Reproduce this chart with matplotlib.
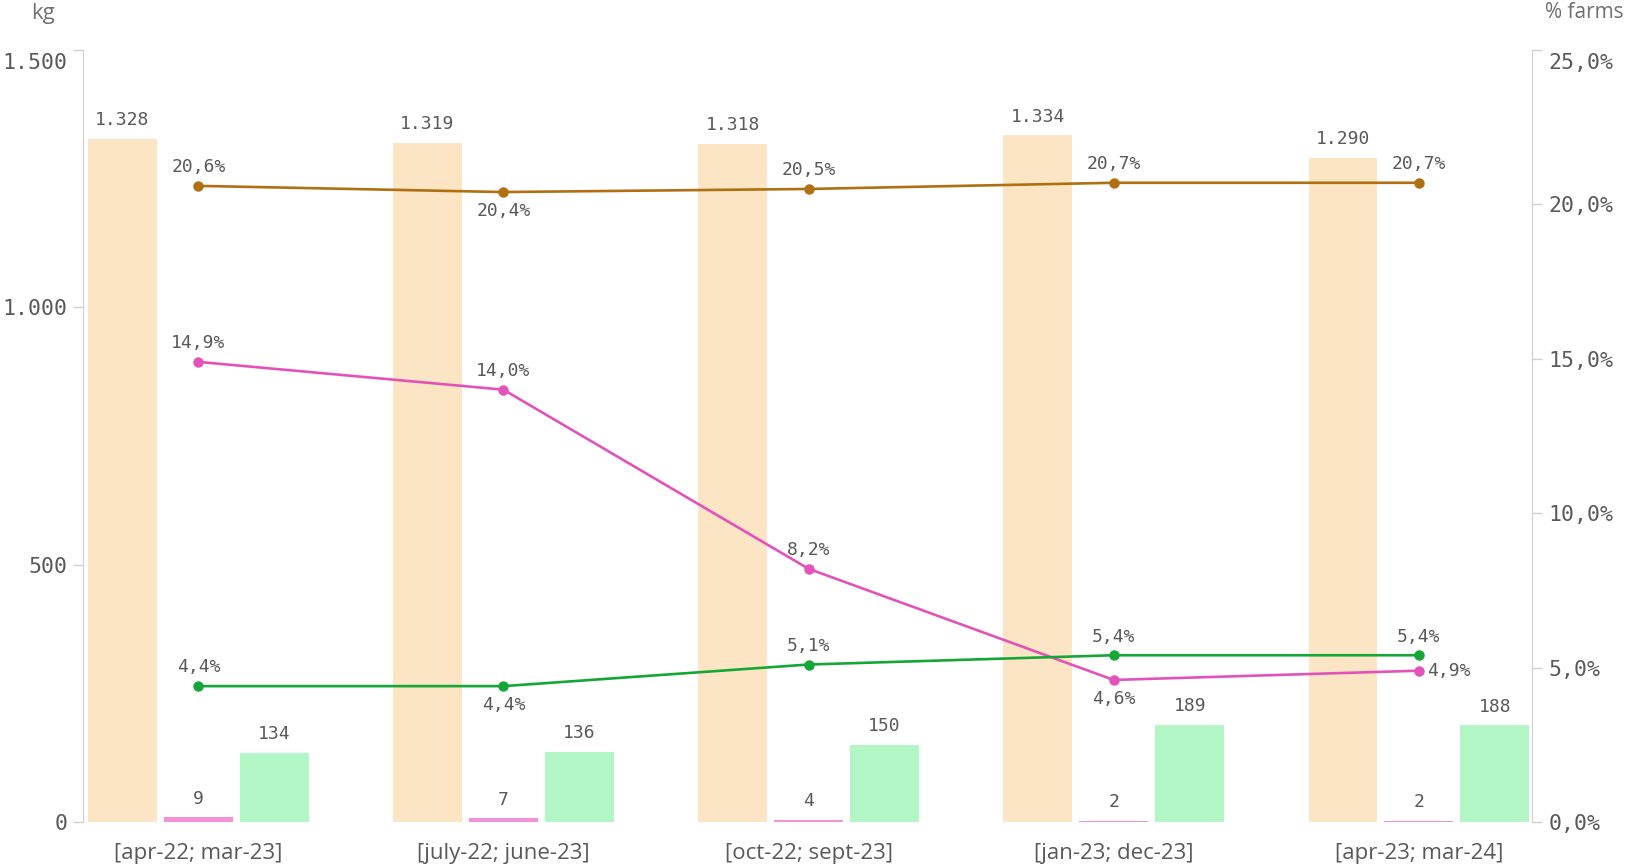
import matplotlib
matplotlib.use("Agg")
import matplotlib.pyplot as plt
import matplotlib.transforms as mtransforms
import numpy as np

categories = ["[apr-22; mar-23]", "[july-22; june-23]", "[oct-22; sept-23]",
              "[jan-23; dec-23]", "[apr-23; mar-24]"]
bar_total = [1328, 1319, 1318, 1334, 1290]
bar_pink = [9, 7, 4, 2, 2]
bar_green = [134, 136, 150, 189, 188]
line_brown = [20.6, 20.4, 20.5, 20.7, 20.7]
line_pink = [14.9, 14.0, 8.2, 4.6, 4.9]
line_green = [4.4, 4.4, 5.1, 5.4, 5.4]
left_ticks = [0, 500, 1000, 1500]
right_ticks = [0, 5, 10, 15, 20, 25]

# label placement: 'a' above, 'b' below, 'r' right
pos_brown = ['a', 'b', 'a', 'a', 'a']
pos_pink = ['a', 'a', 'a', 'b', 'r']
pos_green = ['a', 'b', 'a', 'a', 'a']

C_BEIGE = "#FCE5C5"
C_PINKBAR = "#F291D3"
C_GREENBAR = "#B2F6C6"
C_BROWN = "#B06F12"
C_PINK = "#E352B8"
C_GREEN = "#14A636"
C_TXT = "#595959"
C_AX = "#CFCFCF"
MONO = "DejaVu Sans Mono"
SANS = "Open Sans"

fig = plt.figure(figsize=(16.26, 8.65), dpi=100)
ax = fig.add_axes([83/1626, 1-822/865, (1532-83)/1626, (822-50)/865])
ax2 = ax.twinx()

x = np.arange(len(categories))
w = 0.225
off = 0.249
ax.bar(x - off, bar_total, w, color=C_BEIGE, zorder=1)
ax.bar(x, bar_pink, w, color=C_PINKBAR, zorder=1)
ax.bar(x + off, bar_green, w, color=C_GREENBAR, zorder=1)

for xs, vals in ((x - off, bar_total), (x, bar_pink), (x + off, bar_green)):
    for xi, v in zip(xs, vals):
        ax.annotate(f"{v:,}".replace(",", "."), (xi, v), xytext=(0, 7),
                    textcoords="offset points", ha="center", va="bottom",
                    fontsize=13, family=MONO, color=C_TXT)

ax.set_xlim(-0.378, 4.371)
ax.set_ylim(0, 1500)
ax2.set_ylim(0, 25)

for vals, col, poss in ((line_brown, C_BROWN, pos_brown),
                        (line_pink, C_PINK, pos_pink),
                        (line_green, C_GREEN, pos_green)):
    ax2.plot(x, vals, color=col, lw=1.9, marker="o", ms=6.5, zorder=3)
    for xi, v, p in zip(x, vals, poss):
        s = f"{v:.1f}%".replace(".", ",")
        if p == 'a':
            ax2.annotate(s, (xi, v), xytext=(0, 7), textcoords="offset points",
                         ha="center", va="bottom", fontsize=13, family=MONO, color=C_TXT)
        elif p == 'b':
            ax2.annotate(s, (xi, v), xytext=(0, -7), textcoords="offset points",
                         ha="center", va="top", fontsize=13, family=MONO, color=C_TXT)
        else:
            ax2.annotate(s, (xi, v), xytext=(6, 0), textcoords="offset points",
                         ha="left", va="center", fontsize=13, family=MONO, color=C_TXT)

ax.set_xticks(x)
ax.set_xticklabels(categories, fontsize=16, family=SANS, color=C_TXT)
ax.tick_params(axis="x", length=0, pad=15)
ax.set_yticks(left_ticks)
ax.set_yticklabels([f"{t:,}".replace(",", ".") for t in left_ticks],
                   fontsize=15.5, family=MONO, color=C_TXT)
ax.tick_params(axis="y", length=7, color=C_AX, width=1, pad=4)
ax2.set_yticks(right_ticks)
ax2.set_yticklabels([f"{t:.1f}%".replace(".", ",") for t in right_ticks],
                    fontsize=15.5, family=MONO, color=C_TXT)
ax2.tick_params(axis="y", length=7, color=C_AX, width=1, pad=5)

# push the top tick labels down so they sit inside the plot height
shift = mtransforms.ScaledTranslation(0, -11/100, fig.dpi_scale_trans)
for lab in (ax.get_yticklabels()[-1], ax2.get_yticklabels()[-1]):
    lab.set_transform(lab.get_transform() + shift)

for a in (ax, ax2):
    for s in ("top", "bottom"):
        a.spines[s].set_visible(False)
    a.spines["left"].set_color(C_AX)
    a.spines["right"].set_color(C_AX)
ax.spines["right"].set_visible(False)
ax2.spines["left"].set_visible(False)

fig.text(43/1626, 1-13/865, "kg", fontsize=16, family=SANS, color="#707070",
         ha="center", va="center")
fig.text(1624/1626, 1-12/865, "% farms", fontsize=15, family=SANS, color="#707070",
         ha="right", va="center")

fig.savefig("out.png", dpi=100)
